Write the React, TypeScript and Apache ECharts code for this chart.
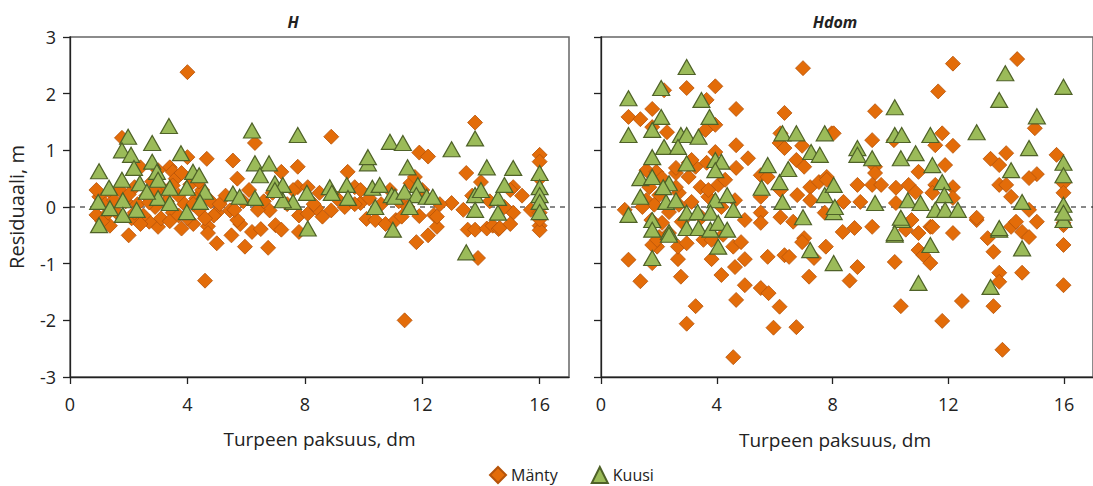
import React, { useEffect, useRef } from "react";
import * as echarts from "echarts";

const xTickValues = [0, 4, 8, 12, 16];
const yTickValues = [-3, -2, -1, 0, 1, 2, 3];
const panelTitles = ["H", "Hdom"];
const seriesNames = ["Mänty", "Kuusi"];

// Panel H, Mänty [x, residual]
const hManty = [
  [4.0, 2.38], [1.77, 1.22], [4.0, 0.88], [4.66, 0.85], [5.55, 0.82], [6.3, 1.13], [8.9, 1.24],
  [11.9, 0.96], [12.2, 0.89], [13.8, 1.49], [16.0, 0.92], [16.0, 0.8], [4.6, -1.3], [11.4, -2.0],
  [13.9, -0.9], [11.8, -0.62], [12.2, -0.5], [12.5, -0.35], [5.0, -0.64], [5.96, -0.7], [6.75, -0.72],
  [2.0, -0.5], [1.36, -0.33], [3.0, -0.35], [3.8, -0.38], [4.2, -0.3], [4.7, -0.34], [4.7, -0.46],
  [5.5, -0.5], [5.8, -0.3], [6.2, -0.44], [6.5, -0.39], [6.8, -0.06], [7.0, -0.32], [7.2, -0.4],
  [7.8, -0.44], [5.45, -0.06], [5.0, -0.1], [2.7, -0.26], [0.9, -0.14], [7.8, -0.15], [8.1, -0.12],
  [8.6, -0.17], [8.9, -0.06], [10.1, -0.21], [10.4, -0.23], [10.75, -0.3], [11.1, -0.23], [11.3, -0.17],
  [11.9, -0.16], [12.4, -0.14], [13.0, 0.07], [13.4, -0.05], [13.55, -0.4], [13.8, -0.4], [14.2, -0.38],
  [14.4, -0.33], [14.6, -0.39], [15.1, -0.1], [15.7, -0.05], [16.0, -0.33], [16.0, -0.41], [16.0, -0.22],
  [3.4, 0.7], [3.5, 0.62], [5.7, 0.5], [7.76, 0.71], [7.2, 0.62], [9.46, 0.62], [7.76, 0.35], [8.1, 0.35],
  [9.7, 0.35], [8.4, -0.02], [9.36, 0.0], [9.9, 0.07], [5.7, -0.23], [6.4, -0.05], [13.5, 0.6],
  [15.1, 0.35], [14.0, 0.44], [12.5, -0.17], [14.64, -0.37], [15.0, 0.3], [11.6, 0.42], [11.75, 0.53],
  [11.5, 0.0], [1.0, 0.18], [1.2, 0.05], [1.4, 0.25], [1.6, -0.1], [1.7, 0.3], [1.9, 0.1], [2.1, -0.2],
  [2.2, 0.35], [2.3, 0.05], [2.5, -0.15], [2.6, 0.2], [2.8, 0.45], [2.9, 0.0], [3.1, -0.2], [3.2, 0.3],
  [3.3, 0.1], [3.5, -0.1], [3.6, 0.5], [3.7, 0.2], [3.9, 0.05], [4.0, -0.2], [4.1, 0.4], [4.3, 0.15],
  [4.4, -0.05], [4.5, 0.3], [4.8, 0.1], [4.9, -0.15], [5.1, 0.05], [5.3, 0.2], [5.6, -0.05], [5.9, 0.1],
  [6.1, 0.3], [6.6, 0.1], [6.9, 0.25], [7.4, 0.05], [7.6, 0.3], [8.3, 0.05], [9.1, 0.15], [9.7, 0.05],
  [10.2, 0.15], [10.6, 0.05], [10.9, 0.3], [11.2, 0.1], [12.0, 0.3], [12.6, 0.05], [13.7, 0.2],
  [14.3, 0.1], [14.8, 0.0], [15.4, 0.2], [16.0, 0.5], [16.0, 0.1], [16.0, -0.1], [15.0, -0.3],
  [1.1, -0.25], [2.4, -0.3], [3.4, -0.25], [4.6, -0.2], [3.0, 0.65], [2.4, 0.7], [3.8, 0.6], [8.5, 0.25],
  [9.9, 0.3], [0.9, 0.3], [1.5, 0.12], [2.0, 0.22], [2.7, 0.08], [3.5, 0.38], [4.2, 0.05], [1.3, -0.1],
  [2.2, -0.1], [3.7, -0.15], [4.4, 0.45], [2.9, 0.3],
];

// Panel H, Kuusi
const hKuusi = [
  [3.37, 1.43], [1.98, 1.24], [1.77, 1.0], [2.8, 1.13], [2.08, 0.92], [0.99, 0.63], [2.8, 0.8],
  [3.78, 0.95], [2.18, 0.69], [1.77, 0.48], [1.33, 0.34], [2.38, 0.42], [2.96, 0.62], [3.0, 0.48],
  [4.19, 0.62], [4.4, 0.56], [3.4, 0.34], [3.98, 0.34], [4.6, 0.27], [0.96, 0.09], [1.36, -0.02],
  [1.8, 0.12], [2.27, -0.05], [3.0, 0.16], [3.4, 0.07], [3.98, -0.09], [4.43, 0.09], [0.99, -0.32],
  [1.8, -0.14], [2.62, 0.27], [5.55, 0.24], [6.2, 1.35], [7.76, 1.27], [6.3, 0.77], [6.78, 0.77],
  [6.47, 0.56], [6.98, 0.42], [7.25, 0.39], [6.3, 0.16], [5.78, 0.18], [7.6, 0.09], [8.07, 0.25],
  [8.85, 0.35], [9.43, 0.39], [9.47, 0.16], [8.92, 0.25], [10.15, 0.77], [10.15, 0.88], [10.3, 0.34],
  [10.55, 0.39], [10.4, 0.0], [10.96, 0.21], [10.9, 1.15], [11.34, 1.13], [11.07, 0.18], [11.0, -0.4],
  [8.1, -0.38], [7.25, 0.12], [6.98, 0.3], [13.0, 1.02], [13.8, 1.21], [14.2, 0.7], [15.1, 0.69],
  [11.5, 0.7], [11.85, 0.39], [11.4, 0.27], [11.8, 0.21], [12.15, 0.18], [12.36, 0.18], [11.57, 0.0],
  [13.8, 0.21], [14.0, 0.3], [13.8, -0.05], [14.58, 0.16], [14.8, 0.39], [14.58, -0.1], [16.0, 0.6],
  [16.0, 0.35], [16.0, 0.21], [16.0, 0.09], [16.0, -0.09], [13.5, -0.8],
];

// Panel Hdom, Mänty
const hdomManty = [
  [6.98, 2.45], [2.96, 2.1], [3.95, 2.13], [2.18, 2.06], [0.95, 1.59], [1.36, 1.55], [1.77, 1.73],
  [3.65, 1.89], [4.67, 1.73], [3.95, 1.45], [6.34, 1.66], [1.77, 1.41], [2.28, 1.32], [3.61, 1.36],
  [4.67, 1.09], [5.08, 0.86], [4.67, 0.69], [3.95, 0.97], [3.65, 0.78], [6.2, 1.3], [6.17, 1.13],
  [6.34, 1.04], [6.95, 1.08], [6.75, 0.83], [7.02, 0.71], [7.23, 0.35], [7.53, 0.44], [7.8, 0.53],
  [7.97, 1.3], [5.52, 0.56], [5.76, 0.53], [5.52, 0.18], [6.2, 0.3], [6.78, 0.21], [7.23, 0.12],
  [7.73, -0.1], [4.97, -0.23], [5.52, -0.1], [5.52, -0.28], [6.2, -0.18], [6.64, -0.26], [7.02, -0.55],
  [0.82, -0.05], [1.57, 0.65], [1.91, 0.62], [2.59, 0.6], [3.03, 0.78], [3.27, 0.71], [3.03, 0.53],
  [3.44, 0.35], [4.05, 0.39], [3.71, 0.18], [2.69, 0.25], [2.01, 0.21], [1.57, 0.12], [1.84, 0.04],
  [2.35, -0.09], [3.13, 0.09], [3.71, 0.3], [4.29, 0.48], [4.63, 0.12], [2.59, 0.35], [2.11, 0.51],
  [1.67, 0.35], [1.43, 0.0], [2.69, 0.04], [4.16, 0.0], [3.47, -0.18], [2.79, -0.26], [2.11, -0.28],
  [1.74, -0.23], [2.35, -0.46], [2.01, -0.53], [3.82, -0.53], [4.22, -0.49], [3.13, 0.83], [2.59, 0.69],
  [0.95, -0.93], [1.36, -1.31], [1.77, -0.99], [1.94, -0.7], [1.77, -0.67], [2.66, -0.92], [2.76, -1.23],
  [3.27, -1.75], [2.96, -2.06], [3.82, -0.92], [4.16, -1.2], [4.57, -0.7], [4.63, -1.06], [4.97, -0.92],
  [4.97, -1.38], [4.67, -1.64], [4.57, -2.65], [5.52, -1.43], [5.79, -1.52], [5.76, -0.88], [6.17, -1.76],
  [5.96, -2.13], [6.34, -0.85], [6.5, -0.88], [6.75, -2.12], [6.95, -0.62], [7.19, -1.23], [7.36, -0.9],
  [7.77, -0.7], [2.66, -0.7], [2.96, -0.64], [3.54, -0.58], [3.82, -0.58], [4.84, -0.62], [1.94, -0.58],
  [8.35, -0.44], [8.76, -0.37], [9.37, -0.35], [8.86, -1.06], [8.59, -1.3], [10.15, -0.97], [10.36, -1.75],
  [10.53, -0.4], [10.97, -0.46], [10.97, -0.76], [11.14, -0.85], [11.38, -0.99], [11.38, -0.35],
  [11.79, -2.01], [12.16, -0.46], [12.47, -1.66], [12.98, -0.23], [13.36, -0.55], [13.56, -0.79],
  [13.56, -1.75], [13.76, -1.16], [13.76, -1.32], [13.87, -2.52], [14.17, -0.35], [14.55, -0.44],
  [14.79, -0.53], [14.55, -1.16], [15.06, -0.26], [15.98, -0.67], [15.98, -1.38], [15.98, -0.32],
  [12.16, 2.53], [14.38, 2.61], [11.65, 2.04], [9.47, 1.69], [9.37, 1.18], [8.04, 1.3], [10.12, 1.18],
  [11.79, 1.3], [11.55, 1.09], [12.16, 1.08], [14.99, 1.39], [15.74, 0.92], [13.46, 0.85], [14.0, 0.95],
  [13.76, 0.74], [15.06, 0.58], [14.79, 0.51], [15.98, 0.42], [9.47, 0.71], [9.47, 0.6], [10.97, 0.62],
  [11.89, 0.74], [8.86, 0.39], [9.37, 0.39], [9.68, 0.39], [8.38, 0.09], [8.96, 0.09], [10.19, 0.34],
  [10.63, 0.39], [10.87, 0.26], [10.19, 0.07], [11.55, 0.39], [11.45, 0.25], [12.16, 0.35], [12.16, 0.16],
  [13.76, 0.39], [14.0, 0.39], [14.17, 0.18], [14.79, -0.05], [12.98, -0.19], [14.34, -0.26],
  [10.73, -0.23], [11.45, -0.35], [7.8, 0.48], [15.98, 0.25], [15.98, -0.28],
];

// Panel Hdom, Kuusi
const hdomKuusi = [
  [2.96, 2.47], [2.08, 2.1], [0.95, 1.92], [0.95, 1.27], [2.08, 1.59], [1.77, 1.36], [3.47, 1.89],
  [3.75, 1.59], [2.76, 1.27], [2.96, 1.27], [3.37, 1.24], [2.18, 1.06], [2.66, 1.06], [1.77, 0.88],
  [2.96, 0.77], [3.95, 0.83], [4.16, 0.8], [3.95, 0.65], [1.36, 0.51], [1.77, 0.53], [2.35, 0.42],
  [1.36, 0.18], [0.95, -0.14], [2.25, 0.09], [2.59, 0.12], [2.15, 0.35], [3.95, 0.12], [4.36, 0.21],
  [4.57, -0.05], [2.96, -0.1], [3.34, -0.09], [3.78, -0.1], [1.77, -0.23], [5.76, 0.74], [5.55, 0.34],
  [6.17, 0.44], [6.47, 0.67], [6.27, 1.3], [6.75, 1.3], [6.27, 0.09], [6.98, -0.18], [7.26, 0.97],
  [7.56, 0.92], [7.73, 1.3], [7.73, 0.21], [8.04, 0.39], [8.04, -0.09], [1.77, -0.4], [2.35, -0.44],
  [2.96, -0.37], [3.37, -0.37], [3.78, -0.4], [4.05, -0.28], [4.36, -0.4], [1.77, -0.9], [2.35, -0.49],
  [4.05, -0.7], [7.23, -0.76], [8.04, -0.99], [10.97, -1.34], [11.38, -0.67], [13.76, -0.4],
  [13.46, -1.41], [14.55, -0.73], [10.15, -0.49], [10.39, -0.23], [15.98, -0.23], [13.97, 2.36],
  [13.76, 1.89], [15.98, 2.12], [15.06, 1.6], [12.98, 1.32], [14.79, 1.04], [10.15, 1.76], [10.15, 1.27],
  [10.39, 1.27], [8.86, 1.04], [8.86, 0.92], [9.37, 0.86], [10.36, 0.86], [10.87, 0.95], [11.38, 1.27],
  [11.45, 0.74], [11.79, 0.44], [14.17, 0.65], [15.98, 0.78], [15.98, 0.56], [9.47, 0.07], [10.6, 0.12],
  [11.04, 0.07], [11.86, 0.21], [11.55, -0.05], [11.89, -0.05], [12.33, -0.05], [14.55, 0.09],
  [15.98, 0.04], [15.98, -0.1], [8.08, 0.0], [10.36, -0.19], [13.76, -0.37], [10.15, -0.46],
];

const FONT = "'Open Sans', 'Noto Sans', sans-serif";
const TEXT = "#222";
const mantyStyle = { color: "#E36C09", borderColor: "#B5530A", borderWidth: 0.8, opacity: 1 };
const kuusiStyle = { color: "#9BBB59", borderColor: "#4F6228", borderWidth: 1.2, opacity: 1 };

function buildOption() {
  const grids = [
    { left: 70, top: 37, width: 499, height: 340 },
    { left: 601, top: 37, width: 499, height: 340 },
  ].map((g) => ({ ...g, show: true, borderColor: "#666", borderWidth: 1.5, backgroundColor: "transparent" }));

  const xAxes = [0, 1].map((i) => ({
    type: "value",
    gridIndex: i,
    min: 0,
    max: 17,
    interval: 4,
    axisLine: { show: true, onZero: false, lineStyle: { color: "#222", width: 1.3 } },
    axisTick: { show: true, length: 7, customValues: xTickValues, lineStyle: { color: "#222", width: 1.3 } },
    axisLabel: { customValues: xTickValues, margin: 18, fontSize: 18, color: TEXT, fontFamily: FONT },
    splitLine: { show: false },
    name: i === 0 ? "Turpeen paksuus, dm" : "",
    nameLocation: "middle",
    nameGap: 52,
    nameTextStyle: { fontSize: 19, color: TEXT, fontFamily: FONT },
  }));

  const yAxes = [0, 1].map((i) => ({
    type: "value",
    gridIndex: i,
    min: -3,
    max: 3,
    interval: 1,
    axisLine: { show: true, onZero: false, lineStyle: { color: "#222", width: 1.3 } },
    axisTick: { show: true, length: 7, customValues: yTickValues, lineStyle: { color: "#222", width: 1.3 } },
    axisLabel: { show: i === 0, customValues: yTickValues, margin: 14, fontSize: 18, color: TEXT, fontFamily: FONT },
    splitLine: { show: false },
    name: i === 0 ? "Residuaali, m" : "",
    nameLocation: "middle",
    nameGap: 44,
    nameTextStyle: { fontSize: 20, color: TEXT, fontFamily: FONT },
  }));

  const zeroLine = (i: number) => ({
    type: "line",
    name: "zero" + i,
    xAxisIndex: i,
    yAxisIndex: i,
    data: [[0, 0], [17, 0]],
    symbol: "none",
    silent: true,
    z: 1,
    lineStyle: { color: "#111", width: 1, type: [5, 5] },
  });

  const scatter = (name: string, data: number[][], i: number, isManty: boolean) => ({
    type: "scatter",
    name,
    xAxisIndex: i,
    yAxisIndex: i,
    data,
    symbol: isManty ? "diamond" : "triangle",
    symbolSize: isManty ? [15, 15] : [17, 15],
    itemStyle: isManty ? mantyStyle : kuusiStyle,
    z: isManty ? 2 : 3,
  });

  return {
    animation: false,
    backgroundColor: "#fff",
    textStyle: { fontFamily: FONT },
    grid: grids,
    xAxis: xAxes,
    yAxis: yAxes,
    legend: {
      data: seriesNames,
      left: 484,
      top: 461,
      itemWidth: 16,
      itemHeight: 16,
      itemGap: 33,
      textStyle: { fontSize: 16, color: TEXT, fontFamily: FONT },
    },
    graphic: [
      { type: "text", x: 293, y: 22, style: { text: panelTitles[0], fill: TEXT, font: "italic bold 16px " + FONT, textAlign: "center", textVerticalAlign: "middle" } },
      { type: "text", x: 835, y: 22, style: { text: panelTitles[1], fill: TEXT, font: "italic bold 16px " + FONT, textAlign: "center", textVerticalAlign: "middle" } },
      { type: "text", x: 835, y: 440, style: { text: "Turpeen paksuus, dm", fill: TEXT, font: "19px " + FONT, textAlign: "center", textVerticalAlign: "middle" } },
    ],
    series: [
      zeroLine(0),
      zeroLine(1),
      scatter(seriesNames[0], hManty, 0, true),
      scatter(seriesNames[1], hKuusi, 0, false),
      scatter(seriesNames[0], hdomManty, 1, true),
      scatter(seriesNames[1], hdomKuusi, 1, false),
    ],
  };
}

export default function App() {
  const ref = useRef<HTMLDivElement>(null);
  useEffect(() => {
    if (!ref.current) return;
    const chart = echarts.init(ref.current, null, { renderer: "svg" });
    chart.setOption(buildOption() as any);
    return () => chart.dispose();
  }, []);
  return <div ref={ref} style={{ position: "fixed", left: 0, top: 0, width: 1093, height: 486 }} />;
}
